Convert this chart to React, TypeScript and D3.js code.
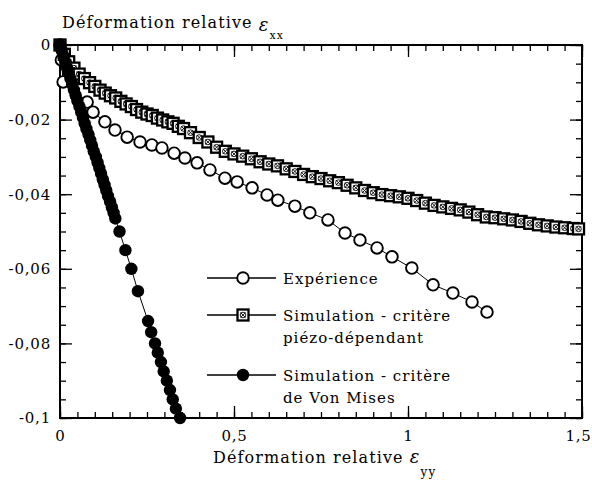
import React, { useEffect, useRef } from 'react';
import * as d3 from 'd3';

// Expérience (open circles)
const expX = [0, 0.004, 0.009, 0.078, 0.095, 0.129, 0.158, 0.193, 0.23, 0.264, 0.293, 0.328, 0.359, 0.394, 0.431, 0.474, 0.509, 0.552, 0.595, 0.626, 0.675, 0.718, 0.77, 0.819, 0.862, 0.911, 0.954, 1.011, 1.072, 1.129, 1.184, 1.227];
const expY = [0, -0.004, -0.0099, -0.0153, -0.018, -0.0206, -0.0228, -0.0247, -0.026, -0.0268, -0.0276, -0.029, -0.0303, -0.0316, -0.0335, -0.0357, -0.0367, -0.0383, -0.0402, -0.0416, -0.0432, -0.045, -0.0469, -0.0504, -0.0523, -0.0544, -0.0568, -0.0598, -0.0643, -0.0665, -0.0689, -0.0716];

// Simulation - critère piézo-dépendant (crossed squares)
const piezoX = [0, 0.0125, 0.025, 0.04, 0.055, 0.07, 0.085, 0.1, 0.115, 0.13, 0.145, 0.16, 0.175, 0.19, 0.205, 0.22, 0.235, 0.25, 0.265, 0.28, 0.295, 0.31, 0.325, 0.34, 0.355, 0.375, 0.4, 0.425, 0.45, 0.475, 0.5, 0.525, 0.55, 0.575, 0.6, 0.625, 0.65, 0.675, 0.7, 0.725, 0.75, 0.775, 0.8, 0.825, 0.85, 0.875, 0.9, 0.925, 0.95, 0.975, 1.0, 1.025, 1.05, 1.075, 1.1, 1.125, 1.15, 1.175, 1.2, 1.225, 1.25, 1.275, 1.3, 1.325, 1.35, 1.375, 1.4, 1.425, 1.45, 1.475, 1.49];
const piezoY = [0, -0.0025, -0.0045, -0.0062, -0.0078, -0.009, -0.0101, -0.0111, -0.0121, -0.0129, -0.0136, -0.0142, -0.0151, -0.0158, -0.0165, -0.0173, -0.018, -0.0185, -0.0189, -0.0196, -0.0201, -0.0206, -0.021, -0.0218, -0.0224, -0.0235, -0.0248, -0.026, -0.0274, -0.0285, -0.0292, -0.0298, -0.0305, -0.0313, -0.0319, -0.0324, -0.0332, -0.0339, -0.0347, -0.0353, -0.0358, -0.0364, -0.0369, -0.0376, -0.0383, -0.039, -0.0396, -0.0401, -0.0404, -0.0407, -0.0411, -0.0417, -0.0424, -0.043, -0.0434, -0.0438, -0.0442, -0.0448, -0.0455, -0.0461, -0.0463, -0.0466, -0.0469, -0.0473, -0.0478, -0.0482, -0.0485, -0.0488, -0.049, -0.0492, -0.0493];

// Simulation - critère de Von Mises (filled circles)
const misesX = [0, 0.005, 0.01, 0.015, 0.02, 0.025, 0.03, 0.035, 0.04, 0.045, 0.05, 0.056, 0.061, 0.066, 0.071, 0.076, 0.082, 0.087, 0.092, 0.097, 0.103, 0.108, 0.113, 0.118, 0.123, 0.128, 0.133, 0.138, 0.144, 0.149, 0.154, 0.159, 0.171, 0.188, 0.205, 0.224, 0.253, 0.262, 0.273, 0.281, 0.29, 0.298, 0.307, 0.316, 0.324, 0.333, 0.345];
const misesY = [0, -0.0015, -0.003, -0.0045, -0.006, -0.0075, -0.009, -0.0105, -0.012, -0.0135, -0.015, -0.0165, -0.018, -0.0195, -0.021, -0.0225, -0.024, -0.0255, -0.027, -0.0285, -0.03, -0.0315, -0.033, -0.0345, -0.036, -0.0375, -0.039, -0.0405, -0.042, -0.0435, -0.045, -0.0465, -0.05, -0.055, -0.06, -0.066, -0.074, -0.077, -0.08, -0.0825, -0.085, -0.0875, -0.09, -0.0925, -0.095, -0.0975, -0.1];

const xTicks = [0, 0.5, 1, 1.5];
const xTickLabels = ['0', '0,5', '1', '1,5'];
const yTicks = [0, -0.02, -0.04, -0.06, -0.08, -0.1];
const yTickLabels = ['0', '-0,02', '-0,04', '-0,06', '-0,08', '-0,1'];

const legendLabels = [
  ['Expérience'],
  ['Simulation - critère', 'piézo-dépendant'],
  ['Simulation - critère', 'de Von Mises'],
];

const FONT = '"DejaVu Serif", serif';

export default function App() {
  const ref = useRef<SVGSVGElement>(null);

  useEffect(() => {
    if (!ref.current) return;
    const svg = d3.select(ref.current);
    svg.selectAll('*').remove();

    const W = 592, H = 480;
    const left = 60, right = 582, top = 45, bottom = 418;
    const x = d3.scaleLinear().domain([0, 1.5]).range([left, right]);
    const y = d3.scaleLinear().domain([-0.1, 0]).range([bottom, top]);

    svg.attr('width', W).attr('height', H);
    svg.append('rect').attr('width', W).attr('height', H).attr('fill', '#fff');

    const xMinor = d3.range(0, 31).map((i) => i * 0.05);
    const yMinor = d3.range(0, 21).map((i) => -i * 0.005);

    const styleAxis = (g: any) => {
      g.select('.domain').remove();
      g.selectAll('line').attr('stroke', '#000').attr('stroke-width', 1.3);
      g.selectAll('text').attr('font-family', FONT).attr('font-size', 15)
        .attr('letter-spacing', 0.8).attr('fill', '#000');
    };

    // minor ticks, all sides, inward
    svg.append('g').attr('transform', `translate(0,${bottom})`)
      .call(d3.axisBottom(x).tickValues(xMinor).tickSize(-6).tickFormat(() => '')).call(styleAxis);
    svg.append('g').attr('transform', `translate(0,${top})`)
      .call(d3.axisTop(x).tickValues(xMinor).tickSize(-6).tickFormat(() => '')).call(styleAxis);
    svg.append('g').attr('transform', `translate(${left},0)`)
      .call(d3.axisLeft(y).tickValues(yMinor).tickSize(-6).tickFormat(() => '')).call(styleAxis);
    svg.append('g').attr('transform', `translate(${right},0)`)
      .call(d3.axisRight(y).tickValues(yMinor).tickSize(-6).tickFormat(() => '')).call(styleAxis);

    // major ticks with labels
    const xAx = svg.append('g').attr('transform', `translate(0,${bottom})`)
      .call(d3.axisBottom(x).tickValues(xTicks).tickSize(-12).tickPadding(12)
        .tickFormat((d, i) => xTickLabels[i])).call(styleAxis);
    xAx.selectAll('text').filter((d: any) => d === 1.5).attr('dx', -4);
    svg.append('g').attr('transform', `translate(0,${top})`)
      .call(d3.axisTop(x).tickValues(xTicks).tickSize(-12).tickFormat(() => '')).call(styleAxis);
    svg.append('g').attr('transform', `translate(${left},0)`)
      .call(d3.axisLeft(y).tickValues(yTicks).tickSize(-12).tickPadding(9)
        .tickFormat((d, i) => yTickLabels[i])).call(styleAxis);
    svg.append('g').attr('transform', `translate(${right},0)`)
      .call(d3.axisRight(y).tickValues(yTicks).tickSize(-12).tickFormat(() => '')).call(styleAxis);

    // frame
    svg.append('rect')
      .attr('x', left).attr('y', top).attr('width', right - left).attr('height', bottom - top)
      .attr('fill', 'none').attr('stroke', '#000').attr('stroke-width', 2);

    const line = d3.line<[number, number]>().x((d) => x(d[0])).y((d) => y(d[1]));

    const drawOpen = (g: any, cx: number, cy: number) => {
      g.append('circle').attr('cx', cx).attr('cy', cy).attr('r', 5.8)
        .attr('fill', '#fff').attr('stroke', '#000').attr('stroke-width', 1.9);
    };
    const drawSquare = (g: any, cx: number, cy: number) => {
      g.append('rect').attr('x', cx - 5.5).attr('y', cy - 5.5).attr('width', 11).attr('height', 11)
        .attr('fill', '#fff').attr('stroke', '#000').attr('stroke-width', 2.3);
      g.append('circle').attr('cx', cx).attr('cy', cy).attr('r', 2.8)
        .attr('fill', 'none').attr('stroke', '#000').attr('stroke-width', 0.9);
      g.append('path').attr('d', `M${cx - 2.5},${cy - 2.5}L${cx + 2.5},${cy + 2.5}M${cx + 2.5},${cy - 2.5}L${cx - 2.5},${cy + 2.5}`)
        .attr('stroke', '#000').attr('stroke-width', 0.9);
    };
    const drawFilled = (g: any, cx: number, cy: number) => {
      g.append('circle').attr('cx', cx).attr('cy', cy).attr('r', 6.2).attr('fill', '#000');
    };

    const series = [
      { xs: expX, ys: expY, mark: drawOpen },
      { xs: piezoX, ys: piezoY, mark: drawSquare },
      { xs: misesX, ys: misesY, mark: drawFilled },
    ];

    series.forEach((s) => {
      const pts: [number, number][] = s.xs.map((v, i) => [v, s.ys[i]]);
      const g = svg.append('g');
      g.append('path').attr('d', line(pts)).attr('fill', 'none').attr('stroke', '#000').attr('stroke-width', 1);
      pts.forEach((p) => s.mark(g, x(p[0]), y(p[1])));
    });

    // legend
    const legY = [278, 315, 375];
    const lg = svg.append('g');
    series.forEach((s, i) => {
      lg.append('line').attr('x1', 207).attr('x2', 276).attr('y1', legY[i]).attr('y2', legY[i])
        .attr('stroke', '#000').attr('stroke-width', 1.3);
      s.mark(lg, 243, legY[i]);
      legendLabels[i].forEach((t, j) => {
        lg.append('text').attr('x', 283).attr('y', legY[i] + 6 + j * 22)
          .attr('font-family', FONT).attr('font-size', 15).attr('letter-spacing', 1)
          .attr('fill', '#000').text(t);
      });
    });

    // axis titles
    const yt = svg.append('text').attr('x', 62).attr('y', 28)
      .attr('font-family', FONT).attr('font-size', 16).attr('letter-spacing', 1.1).attr('fill', '#000');
    yt.append('tspan').text('Déformation relative ');
    yt.append('tspan').attr('font-style', 'italic').attr('font-size', 18).attr('dy', 3).text('ε');
    yt.append('tspan').attr('font-size', 11).attr('dy', 8).text('xx');

    const xt = svg.append('text').attr('x', 213).attr('y', 463)
      .attr('font-family', FONT).attr('font-size', 16).attr('letter-spacing', 1.1).attr('fill', '#000');
    xt.append('tspan').text('Déformation relative ');
    xt.append('tspan').attr('font-style', 'italic').attr('font-size', 18).text('ε');
    xt.append('tspan').attr('font-size', 12).attr('dy', 13).text('yy');
  }, []);

  return <svg ref={ref} style={{ position: 'absolute', left: 0, top: 0 }} />;
}
